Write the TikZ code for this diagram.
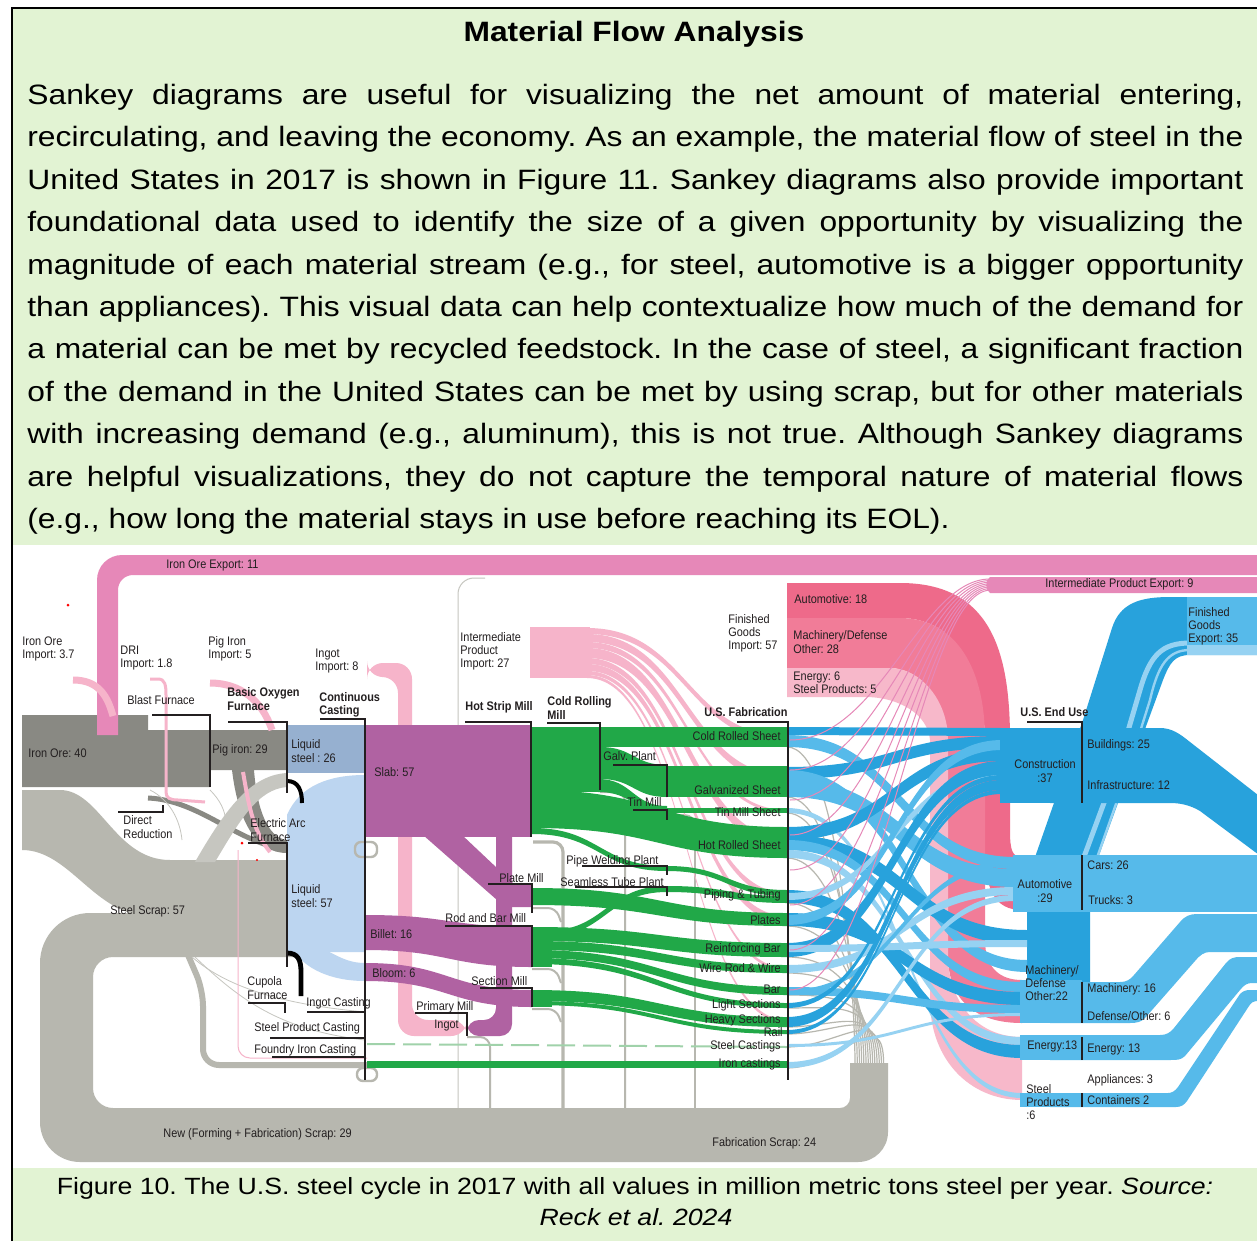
\documentclass[tikz,border=0pt]{standalone}
\usepackage{fontspec}
\setmainfont{Liberation Sans}[FakeStretch=1.135]
\newfontfamily\labfont{Liberation Sans}[FakeStretch=0.88]
\frenchspacing
\definecolor{bgc}{RGB}{226,243,211}
\definecolor{orec}{RGB}{137,137,131}
\definecolor{scrapc}{RGB}{183,183,175}
\definecolor{scrapl}{RGB}{198,198,192}
\definecolor{pimp}{RGB}{246,180,202}
\definecolor{pexp}{RGB}{230,136,184}
\definecolor{fga}{RGB}{238,106,138}
\definecolor{fgm}{RGB}{241,124,152}
\definecolor{fge}{RGB}{247,184,202}
\definecolor{bofc}{RGB}{150,176,208}
\definecolor{eafc}{RGB}{188,213,240}
\definecolor{slabc}{RGB}{176,98,162}
\definecolor{grn}{RGB}{33,168,72}
\definecolor{grnl}{RGB}{160,210,170}
\definecolor{bdc}{RGB}{40,162,220}
\definecolor{bmc}{RGB}{86,186,234}
\definecolor{blc}{RGB}{150,210,242}
\definecolor{txt}{RGB}{35,31,32}
\newcommand{\sband}[7]{\fill[#1] (#2,#3) .. controls ({(#2+#5)/2},#3) and ({(#2+#5)/2},#6) .. (#5,#6) -- (#5,#7) .. controls ({(#2+#5)/2},#7) and ({(#2+#5)/2},#4) .. (#2,#4) -- cycle;}
\tikzset{
  lab/.style={font=\labfont\fontsize{6.2}{6.6}\selectfont, text=txt, inner sep=0pt, align=left},
  labb/.style={font=\labfont\bfseries\fontsize{6.2}{6.6}\selectfont, text=txt, inner sep=0pt, align=left},
  ln/.style={draw=txt, line width=0.55pt},
  bodyl/.style={anchor=base west, inner sep=0pt, font=\fontsize{14}{17}\selectfont},
  capl/.style={anchor=base, inner sep=0pt, font=\fontsize{11.75}{14}\selectfont},
}
\begin{document}
\begin{tikzpicture}[x=0.5pt,y=-0.5pt]
\useasboundingbox (0,0) rectangle (1257,1241);
% ---------- frame ----------
\fill[bgc] (0,0) rectangle (1257,1241);
\fill[white] (0,0) rectangle (1257,7);
\fill[white] (0,0) rectangle (11,1241);
\fill[white] (13,545) rectangle (1257,1168);
\draw[black, line width=1.1pt] (12,1241) -- (12,8) -- (1257,8);
% ---------- text ----------
\node[anchor=base, inner sep=0pt, font=\bfseries\fontsize{14}{17}\selectfont] (title) at (634,42) {Material Flow Analysis};
\node[bodyl] (l1) at (27,104.5) {\makebox[608pt][s]{Sankey diagrams are useful for visualizing the net amount of material entering,}};
\node[bodyl] (l2) at (27,146.9) {\makebox[608pt][s]{recirculating, and leaving the economy. As an example, the material flow of steel in the}};
\node[bodyl] (l3) at (27,189.3) {\makebox[608pt][s]{United States in 2017 is shown in Figure 11. Sankey diagrams also provide important}};
\node[bodyl] (l4) at (27,231.7) {\makebox[608pt][s]{foundational data used to identify the size of a given opportunity by visualizing the}};
\node[bodyl] (l5) at (27,274.1) {\makebox[608pt][s]{magnitude of each material stream (e.g., for steel, automotive is a bigger opportunity}};
\node[bodyl] (l6) at (27,316.5) {\makebox[608pt][s]{than appliances). This visual data can help contextualize how much of the demand for}};
\node[bodyl] (l7) at (27,358.9) {\makebox[608pt][s]{a material can be met by recycled feedstock. In the case of steel, a significant fraction}};
\node[bodyl] (l8) at (27,401.3) {\makebox[608pt][s]{of the demand in the United States can be met by using scrap, but for other materials}};
\node[bodyl] (l9) at (27,443.7) {\makebox[608pt][s]{with increasing demand (e.g., aluminum), this is not true. Although Sankey diagrams}};
\node[bodyl] (l10) at (27,486.1) {\makebox[608pt][s]{are helpful visualizations, they do not capture the temporal nature of material flows}};
\node[bodyl] (l11) at (27,528.5) {(e.g., how long the material stays in use before reaching its EOL).};
\node[capl] (cap1) at (635,1194) {Figure 10. The U.S. steel cycle in 2017 with all values in million metric tons steel per year. \textit{Source:}};
\node[capl] (cap2) at (636,1225) {\textit{Reck et al. 2024}};
% ---------- new scrap thin lines ----------
\draw[scrapl, line width=0.5pt, rounded corners=8pt] (485,578) -- (458,578) -- (458,1112);
\draw[scrapc, line width=1.6pt, rounded corners=5pt] (533,842) -- (563,842) -- (563,1112);
\draw[scrapc, line width=1pt, rounded corners=5pt] (600,792) -- (625,792) -- (625,1112);
\draw[scrapc, line width=0.8pt, rounded corners=5pt] (667,815) -- (695,815) -- (695,1112);
\draw[scrapc, line width=1pt, rounded corners=5pt] (467,1037) -- (490,1037) -- (490,1112);
\draw[scrapc, line width=1pt, rounded corners=4pt] (532,908) -- (556,908) -- (561,922);
\draw[scrapc, line width=1pt, rounded corners=4pt] (532,969) -- (556,969) -- (561,983);
\draw[scrapc, line width=1pt, rounded corners=4pt] (532,1009) -- (556,1009) -- (561,1022);
% ---------- steel scrap loop ----------
\fill[scrapc] (300,913) -- (90,913) arc[start angle=270,end angle=180,radius=50] -- (40,1122) arc[start angle=180,end angle=90,radius=40] -- (858,1162) arc[start angle=90,end angle=0,radius=30] -- (888,1063) -- (850,1063) -- (850,1098) arc[start angle=0,end angle=90,radius=10] -- (113,1108) arc[start angle=90,end angle=180,radius=20] -- (93,977) arc[start angle=180,end angle=270,radius=20] -- (300,957) -- cycle;
\fill[scrapc] (22,790) -- (60,790) .. controls (100,790) and (115,860) .. (170,860) -- (300,860) -- (300,916) -- (150,916) .. controls (95,916) and (70,850) .. (22,850) -- cycle;
% foundry line
\draw[scrapc, line width=3pt, rounded corners=8pt] (188,955) -- (203,990) -- (203,1065) -- (367,1065);
\draw[scrapl, line width=0.4pt] (195,957) .. controls (240,1000) and (280,1030) .. (365,1040);
\draw[scrapl, line width=0.4pt] (192,957) .. controls (230,990) and (290,1005) .. (365,1012);
\draw[pimp, line width=0.5pt, rounded corners=6pt] (238,850) -- (238,1058) -- (367,1058);
% ---------- ore ----------
\fill[orec] (232,770) .. controls (238,820) and (255,853) .. (287,853) -- (287,840) .. controls (268,838) and (257,810) .. (254,770) -- cycle;
\fill[orec] (22,715) -- (148,715) -- (148,730) -- (287,730) -- (287,770) -- (210,770) -- (210,787) -- (22,787) -- cycle;
\draw[orec, line width=2.5pt] (148,798) .. controls (200,800) and (240,845) .. (287,849);
\fill[scrapl] (195,862) .. controls (225,810) and (250,775) .. (287,773) -- (287,787) .. controls (258,789) and (240,820) .. (215,862) -- cycle;
\draw[scrapl, line width=0.4pt] (150,790) .. controls (170,800) and (180,820) .. (182,840);
\draw[scrapl, line width=0.4pt] (210,790) .. controls (220,800) and (225,810) .. (226,822);
% ---------- exports ----------
\fill[pexp] (97,735) -- (97,580) arc[start angle=180,end angle=270,radius=25] -- (1290,555) -- (1290,575) -- (133,575) arc[start angle=270,end angle=180,radius=15] -- (118,735) -- cycle;
\fill[pexp] (990,577) -- (1290,577) -- (1290,593) -- (990,593) .. controls (985,590) and (985,580) .. (990,577) -- cycle;
% ---------- imports (light pink) ----------
\draw[pimp, line width=3.5pt] (73,680) .. controls (100,680) and (108,698) .. (113,716);
\draw[pimp, line width=1.5pt] (150,679) -- (158,679) .. controls (165,679) and (166,685) .. (166,695) -- (166,792) .. controls (166,798) and (170,800) .. (178,800) -- (205,802);
\draw[pimp, line width=3.5pt] (210,683) .. controls (240,683) and (262,700) .. (272,730);
\draw[pimp, line width=2pt] (243,772) .. controls (248,800) and (252,830) .. (270,852);
\fill[pimp, rounded corners=8pt] (367,663) -- (412,663) -- (412,1020) -- (467,1020) -- (467,1036) -- (398,1036) -- (398,677) -- (367,677) -- cycle;
% intermediate product import
\sband{pimp}{587}{628}{634}{787}{736}{742}
\sband{pimp}{587}{634}{642}{787}{775}{783}
\sband{pimp}{587}{642}{648}{787}{810}{813}
\sband{pimp}{587}{648}{658}{787}{838}{848}
\sband{pimp}{587}{658}{664}{787}{893}{899}
\sband{pimp}{587}{664}{671}{787}{916}{923}
\sband{pimp}{587}{671}{675}{787}{968}{971}
\sband{pimp}{587}{675}{678}{787}{1020}{1023}
\fill[pimp] (530,627) rectangle (590,678);
% ---------- liquid steel ----------
\fill[bofc] (287,725) rectangle (365,773);
\fill[eafc] (287,815) .. controls (300,785) and (330,775) .. (365,775) -- (365,952) -- (287,952) -- cycle;
\fill[eafc] (300,940) .. controls (330,948) and (340,963) .. (365,963) -- (365,981) .. controls (330,981) and (305,968) .. (295,952) -- cycle;
\draw[black, line width=2pt] (287,781) .. controls (298,781) and (302,790) .. (302,803);
\draw[black, line width=2.4pt] (287,953) .. controls (298,953) and (301,960) .. (301,972) -- (301,996);
\draw[scrapc, line width=1.2pt, rounded corners=3pt] (355,842) rectangle (377,857);
\draw[scrapc, line width=1.2pt, rounded corners=3pt] (357,1068) rectangle (377,1081);
% ---------- purple ----------
\fill[slabc] (423,835) -- (462,835) -- (515,885) -- (532,885) -- (532,907) -- (505,907) -- cycle;
\fill[slabc, rounded corners=6pt] (467,1020) -- (496,1020) -- (496,820) -- (512,820) -- (512,1036) -- (467,1036) -- cycle;
\fill[slabc] (365,725) rectangle (532,837);
\sband{slabc}{365}{915}{950}{532}{927}{967}
\sband{slabc}{365}{963}{981}{532}{990}{1007}
% ---------- green ----------
\fill[grn] (532,727) rectangle (600,792);
\fill[grn] (600,727) rectangle (787,747);
\sband{grn}{600}{747}{779}{667}{765}{797}
\fill[grn] (667,766) rectangle (787,797);
\sband{grn}{598}{779}{792}{667}{806}{812}
\fill[grn] (667,808) rectangle (787,813);
\sband{grn}{532}{790}{828}{787}{827}{858}
\sband{grn}{532}{828}{834}{667}{866}{871}
\sband{grn}{545}{931}{937}{667}{886}{892}
\sband{grn}{667}{866}{871}{787}{890}{896}
\sband{grn}{667}{886}{892}{787}{896}{903}
\sband{grn}{532}{888}{905}{787}{913}{926}
\fill[grn] (532,927) rectangle (552,967);
\sband{grn}{532}{927}{941}{787}{943}{957}
\sband{grn}{532}{941}{950}{787}{965}{973}
\sband{grn}{532}{950}{958}{787}{987}{995}
\sband{grn}{532}{958}{964}{787}{1003}{1008}
\fill[grn] (532,990) rectangle (552,1007);
\sband{grn}{532}{990}{1001}{787}{1017}{1027}
\sband{grn}{532}{1001}{1005}{787}{1030}{1034}
\draw[grnl, line width=1pt, dash pattern=on 14pt off 4pt] (367,1044) -- (787,1047);
\fill[grn] (367,1061) rectangle (787,1068);
% ---------- finished goods import ----------
\fill[fga] (787,583) -- (900,583) .. controls (990,583) and (1010,650) .. (1010,740) -- (1010,830) .. controls (1010,850) and (1012,857) .. (1022,857) -- (1022,910) .. controls (995,910) and (985,890) .. (985,850) -- (985,740) .. controls (983,660) and (950,618) .. (900,618) -- (787,618) -- cycle;
\fill[fgm] (787,618) -- (900,618) .. controls (950,618) and (985,660) .. (985,740) -- (985,940) .. controls (985,968) and (1000,980) .. (1022,980) -- (1022,1023) .. controls (975,1023) and (950,1000) .. (948,960) -- (948,740) .. controls (946,700) and (920,668) .. (890,668) -- (787,668) -- cycle;
\fill[fge] (787,668) -- (890,668) .. controls (920,668) and (948,700) .. (948,740) -- (948,960) .. controls (950,1000) and (975,1037) .. (1022,1037) -- (1022,1100) .. controls (970,1100) and (930,1060) .. (930,1000) -- (930,740) .. controls (928,715) and (900,697) .. (865,697) -- (787,697) -- cycle;
% ---------- fabrication scrap fan ----------
\foreach \yy/\k in {747/0,797/1,813/2,858/3,903/4,926/5,957/6,973/7,995/8,1008/9,1027/10,1034/11,1047/12,1068/13}
  {\draw[scrapc, line width=0.6pt] (787,\yy) .. controls (840,\yy) and ({855+2.2*\k},1000) .. ({855+2.2*\k},1064);}
% ---------- finished goods export ----------
\fill[bdc] (1027,1000) -- (1027,880) -- (1083,720) -- (1112,628) .. controls (1120,603) and (1140,597) .. (1170,597) -- (1290,597) -- (1290,655) -- (1190,655) .. controls (1175,655) and (1170,662) .. (1163,680) -- (1130,770) -- (1090,880) -- (1090,1000) -- cycle;
\draw[blc, line width=2.5pt] (1068,900) -- (1118,765) -- (1140,690) .. controls (1150,655) and (1162,643) .. (1190,643);
\draw[blc, line width=1.2pt] (1082,900) -- (1128,770) -- (1150,700) .. controls (1158,665) and (1168,650) .. (1190,650);
\fill[bmc] (1187,597) rectangle (1290,645);
\fill[blc] (1187,645) rectangle (1290,655);
% ---------- crossing bands ----------
\sband{bdc}{787}{727}{735}{1002}{728}{736}
\sband{bmc}{787}{735}{747}{1015}{857}{869}
\sband{bdc}{787}{767}{779}{1002}{736}{748}
\sband{bmc}{787}{779}{797}{1015}{869}{887}
\sband{bmc}{787}{770}{782}{1027}{960}{972}
\sband{blc}{787}{808}{813}{1022}{1093}{1098}
\sband{bdc}{787}{827}{840}{1002}{748}{761}
\sband{bdc}{787}{835}{850}{1027}{930}{945}
\sband{bmc}{787}{840}{850}{1022}{982}{992}
\sband{blc}{787}{850}{858}{1022}{1037}{1045}
\sband{bdc}{787}{890}{903}{1022}{1045}{1058}
\sband{blc}{787}{893}{900}{1002}{770}{777}
\sband{bdc}{787}{913}{926}{1022}{992}{1005}
\sband{bmc}{787}{915}{925}{1002}{740}{750}
\sband{bdc}{787}{943}{957}{1002}{761}{775}
\sband{blc}{787}{945}{952}{1027}{940}{947}
\sband{blc}{787}{965}{973}{1015}{887}{895}
\sband{bmc}{787}{987}{995}{1022}{1005}{1013}
\sband{bmc}{787}{990}{995}{1015}{860}{866}
\sband{bdc}{787}{1003}{1008}{1002}{775}{780}
\sband{bdc}{787}{1017}{1027}{1002}{780}{790}
\sband{bdc}{787}{1030}{1034}{1002}{790}{794}
\sband{blc}{787}{1044}{1047}{1022}{1013}{1016}
\sband{blc}{787}{1062}{1068}{1015}{895}{901}
% ---------- end use outflows ----------
\fill[bdc] (1050,728) -- (1160,728) .. controls (1172,728) and (1180,734) .. (1190,742) -- (1290,820) -- (1290,878) -- (1200,811) .. controls (1190,805) and (1180,803) .. (1170,803) -- (1050,803) -- cycle;
\fill[bmc] (1050,855) rectangle (1290,912);
\fill[bmc] (1050,982) -- (1120,982) .. controls (1126,982) and (1130,980) .. (1134,975) -- (1180,922) .. controls (1185,916) and (1190,914) .. (1197,914) -- (1290,914) -- (1290,952) -- (1210,952) .. controls (1204,952) and (1200,955) .. (1195,961) -- (1145,1018) .. controls (1141,1022) and (1137,1023) .. (1130,1023) -- (1050,1023) -- cycle;
\fill[bmc] (1050,1035) -- (1160,1035) .. controls (1166,1035) and (1170,1033) .. (1174,1028) -- (1226,963) .. controls (1230,958) and (1234,957) .. (1240,957) -- (1290,957) -- (1290,983) -- (1252,983) .. controls (1247,983) and (1244,985) .. (1240,990) -- (1185,1056) .. controls (1181,1060) and (1177,1060) .. (1170,1060) -- (1050,1060) -- cycle;
\fill[bmc] (1050,1093) -- (1168,1093) .. controls (1172,1093) and (1175,1091) .. (1178,1087) -- (1240,994) .. controls (1243,991) and (1246,990) .. (1250,990) -- (1290,990) -- (1290,1001) -- (1256,1001) .. controls (1253,1001) and (1251,1003) .. (1249,1006) -- (1187,1101) .. controls (1184,1105) and (1181,1107) .. (1176,1107) -- (1050,1107) -- cycle;
% nodes
\fill[bdc] (1000,728) rectangle (1082,803);
\fill[bmc] (1013,855) rectangle (1082,912);
\fill[bmc] (1020,980) rectangle (1082,1023);
\fill[bmc] (1020,1035) rectangle (1082,1060);
\fill[bmc] (1020,1093) rectangle (1082,1107);
% ---------- intermediate export thin lines ----------
\foreach \yy/\k in {740/0,770/1,800/2,835/3,870/4,905/5,950/6,990/7}
  {\draw[pexp, line width=0.5pt] (790,\yy) .. controls (880,\yy) and (920,{579+1.6*\k}) .. (990,{579+1.6*\k});}
% red dots
\fill[red] (68,605) circle (1.5);
\fill[red] (242,843) circle (1.5);
\fill[red] (257,860) circle (1.2);
% ---------- structure lines ----------
\draw[ln] (152,715) -- (210,715) -- (210,787);
\draw[ln] (228,722) -- (287,722) -- (287,793);
\draw[ln] (320,719) -- (365,719) -- (365,1080);
\draw[ln] (118,812) -- (163,812) -- (163,805);
\draw[ln] (248,843) -- (287,843) -- (287,967);
\draw[ln] (248,1003) -- (285,1003) -- (285,1013);
\draw[ln] (307,1012) -- (365,1012);
\draw[ln] (270,1038) -- (365,1038);
\draw[ln] (272,1057) -- (365,1057);
\draw[ln] (465,722) -- (531,722) -- (531,837);
\draw[ln] (547,723) -- (600,723) -- (600,790);
\draw[ln] (613,765) -- (667,765) -- (667,797);
\draw[ln] (633,810) -- (667,810) -- (667,820);
\draw[ln] (737,722) -- (788,722) -- (788,1080);
\draw[ln] (582,866) -- (667,866) -- (667,875);
\draw[ln] (575,887) -- (667,887) -- (667,896);
\draw[ln] (488,884) -- (532,884) -- (532,913);
\draw[ln] (445,926) -- (532,926) -- (532,967);
\draw[ln] (480,988) -- (532,988) -- (532,1007);
\draw[ln] (415,1013) -- (467,1013) -- (467,1036);
\draw[ln] (1027,722) -- (1082,722) -- (1082,803);
\draw[ln] (1082,855) -- (1082,910);
\draw[ln] (1082,982) -- (1082,1023);
\draw[ln] (1082,1037) -- (1082,1060);
\draw[ln] (1082,1093) -- (1082,1107);
% ---------- labels ----------
\node[lab, anchor=west] (n1) at (166,565) {Iron Ore Export: 11};
\node[lab, anchor=west] (n2) at (22,649) {Iron Ore\\Import: 3.7};
\node[lab, anchor=west] (n3) at (120,658) {DRI\\Import: 1.8};
\node[lab, anchor=west] (n4) at (208,649) {Pig Iron\\Import: 5};
\node[lab, anchor=west] (n5) at (315,661) {Ingot\\Import: 8};
\node[lab, anchor=west] (n6) at (127,700) {Blast Furnace};
\node[labb, anchor=west] (n7) at (227,699) {Basic Oxygen\\Furnace};
\node[labb, anchor=west] (n8) at (319,705) {Continuous\\Casting};
\node[lab, anchor=west] (n9) at (28,753) {Iron Ore: 40};
\node[lab, anchor=west] (n10) at (212,750) {Pig iron: 29};
\node[lab, anchor=west] (n11) at (291,751) {Liquid\\steel : 26};
\node[lab, anchor=west] (n12) at (374,772) {Slab: 57};
\node[lab, anchor=west] (n13) at (123,827) {Direct\\Reduction};
\node[lab, anchor=west] (n14) at (250,830) {Electric Arc\\Furnace};
\node[lab, anchor=west] (n15) at (291,896) {Liquid\\steel: 57};
\node[lab, anchor=west] (n16) at (110,911) {Steel Scrap: 57};
\node[lab, anchor=west] (n17) at (370,934) {Billet: 16};
\node[lab, anchor=west] (n18) at (372,973) {Bloom: 6};
\node[lab, anchor=west] (n19) at (247,988) {Cupola\\Furnace};
\node[lab, anchor=west] (n20) at (306,1003) {Ingot Casting};
\node[lab, anchor=west] (n21) at (254,1028) {Steel Product Casting};
\node[lab, anchor=west] (n22) at (254,1050) {Foundry Iron Casting};
\node[lab, anchor=west] (n23) at (163,1134) {New (Forming + Fabrication) Scrap: 29};
\node[lab, anchor=west] (n24) at (712,1143) {Fabrication Scrap: 24};
\node[lab, anchor=west] (n25) at (460,651) {Intermediate\\Product\\Import: 27};
\node[labb, anchor=west] (n26) at (465,707) {Hot Strip Mill};
\node[labb, anchor=west] (n27) at (547,708) {Cold Rolling\\Mill};
\node[lab, anchor=west] (n28) at (728,633) {Finished\\Goods\\Import: 57};
\node[lab, anchor=west] (n29) at (794,599) {Automotive: 18};
\node[lab, anchor=west] (n30) at (793,642) {Machinery/Defense\\Other: 28};
\node[lab, anchor=west] (n31) at (793,683) {Energy: 6\\Steel Products: 5};
\node[lab, anchor=west] (n32) at (1045,584) {Intermediate Product Export: 9};
\node[lab, anchor=west] (n33) at (1188,626) {Finished\\Goods\\Export: 35};
\node[labb, anchor=west] (n34) at (704,712) {U.S. Fabrication};
\node[labb, anchor=west] (n35) at (1020,712) {U.S. End Use};
\node[lab, anchor=west] (n36) at (603,756) {Galv. Plant};
\node[lab, anchor=west] (n37) at (627,802) {Tin Mill};
\node[lab, anchor=west] (n38) at (566,861) {Pipe Welding Plant};
\node[lab, anchor=west] (n39) at (560,882) {Seamless Tube Plant};
\node[lab, anchor=west] (n40) at (499,878) {Plate Mill};
\node[lab, anchor=west] (n41) at (445,918) {Rod and Bar Mill};
\node[lab, anchor=west] (n42) at (471,981) {Section Mill};
\node[lab, anchor=west] (n43) at (416,1007) {Primary Mill};
\node[lab, anchor=west] (n44) at (434,1026) {Ingot};
\node[lab, anchor=east] (n45) at (781,736) {Cold Rolled Sheet};
\node[lab, anchor=east] (n46) at (781,790) {Galvanized Sheet};
\node[lab, anchor=east] (n47) at (781,812) {Tin Mill Sheet};
\node[lab, anchor=east] (n48) at (781,845) {Hot Rolled Sheet};
\node[lab, anchor=east] (n49) at (781,895) {Piping \& Tubing};
\node[lab, anchor=east] (n50) at (781,920) {Plates};
\node[lab, anchor=east] (n51) at (781,949) {Reinforcing Bar};
\node[lab, anchor=east] (n52) at (781,968) {Wire Rod \& Wire};
\node[lab, anchor=east] (n53) at (781,989) {Bar};
\node[lab, anchor=east] (n54) at (781,1005) {Light Sections};
\node[lab, anchor=east] (n55) at (781,1020) {Heavy Sections};
\node[lab, anchor=east] (n56) at (783,1032) {Rail};
\node[lab, anchor=east] (n57) at (781,1046) {Steel Castings};
\node[lab, anchor=east] (n58) at (781,1064) {Iron castings};
\node[lab, anchor=center, align=center] (n59) at (1045,771) {Construction\\:37};
\node[lab, anchor=west] (n60) at (1087,745) {Buildings: 25};
\node[lab, anchor=west] (n61) at (1087,785) {Infrastructure: 12};
\node[lab, anchor=center, align=center] (n62) at (1045,891) {Automotive\\:29};
\node[lab, anchor=west] (n63) at (1087,865) {Cars: 26};
\node[lab, anchor=west] (n64) at (1088,900) {Trucks: 3};
\node[lab, anchor=west] (n65) at (1025,983) {Machinery/\\Defense\\Other:22};
\node[lab, anchor=west] (n66) at (1087,989) {Machinery: 16};
\node[lab, anchor=west] (n67) at (1087,1016) {Defense/Other: 6};
\node[lab, anchor=west] (n68) at (1027,1046) {Energy:13};
\node[lab, anchor=west] (n69) at (1087,1049) {Energy: 13};
\node[lab, anchor=west] (n70) at (1087,1080) {Appliances: 3};
\node[lab, anchor=west] (n71) at (1026,1102) {Steel\\Products\\:6};
\node[lab, anchor=west] (n72) at (1087,1100) {Containers 2};
\end{tikzpicture}
\end{document}
